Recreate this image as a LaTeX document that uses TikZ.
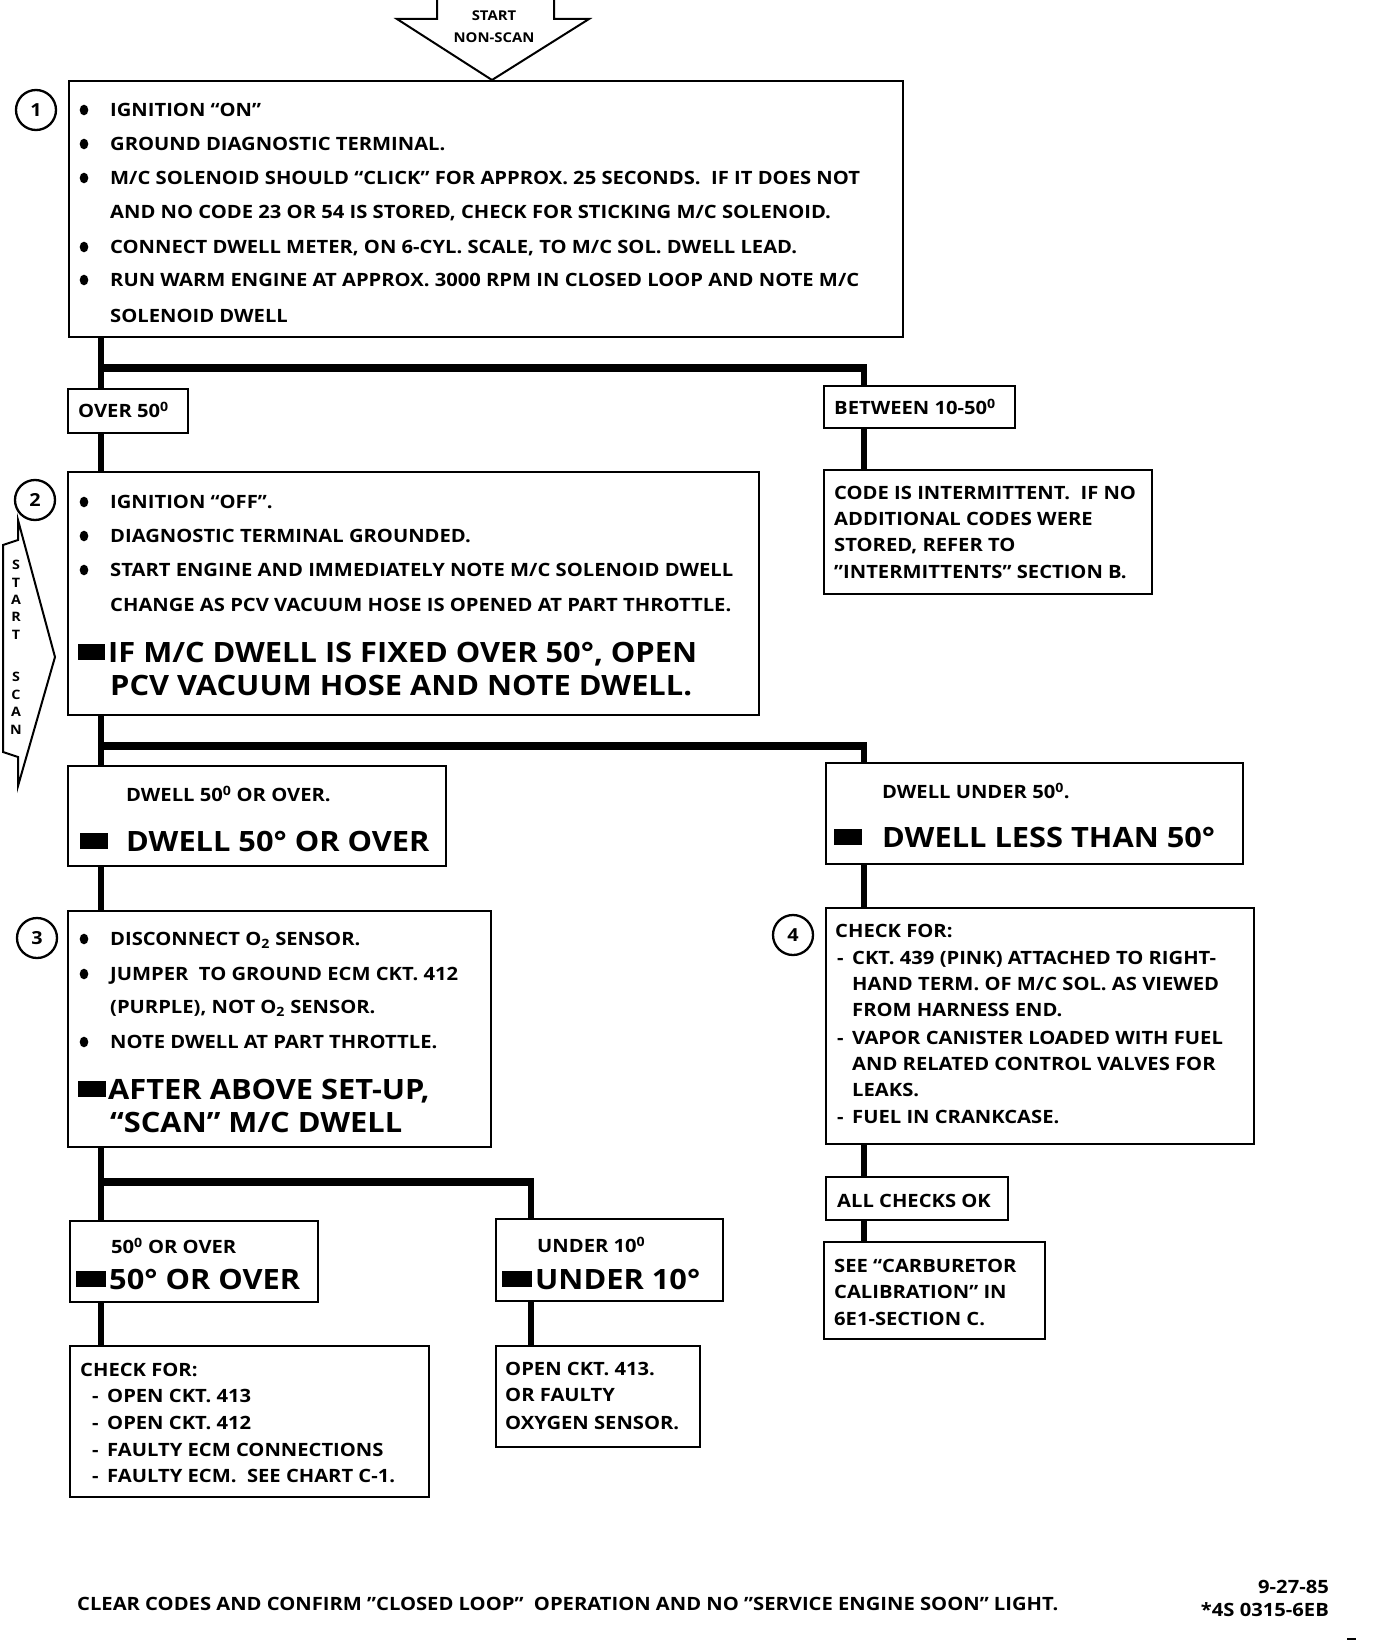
\documentclass[tikz,border=0pt]{standalone}
\usepackage{fontspec}
\setmainfont{Open Sans}[FakeStretch=1.1]
\newcommand\stxt{\bfseries\fontsize{18.35}{20}\selectfont}
\newcommand\btxt{\bfseries\fontsize{28}{30}\selectfont}
\newcommand\ntxt{\bfseries\fontsize{18}{20}\selectfont}
\newcommand\atxt{\bfseries\fontsize{13.5}{15}\selectfont}
\newcommand\vtxt{\bfseries\fontsize{13}{14}\selectfont}
\newcommand\tline[4]{\node[txt] (#1) at ({#2},{#3+6.6}) {#4};}
\newcommand\bline[4]{\node[big] (#1) at ({#2},{#3+10}) {#4};}
\newcommand\bul[2]{\fill (#1,#2) ellipse [x radius=4.3, y radius=5.3];}
\newcommand\sqr[3]{\fill (#1,{#3-8}) rectangle (#2,{#3+7.5});}
\newcommand\bx[5]{\node[box, minimum width={(#4-#2)*1pt}, minimum height={(#5-#3)*1pt}] (#1) at (#2,#3) {};}
\newcommand\dsh[1]{\makebox[15pt][l]{-}#1}
\begin{document}
\begin{tikzpicture}[x=1pt,y=-1pt,
  box/.style={draw, line width=2.3pt, rectangle, inner sep=0pt, anchor=north west},
  conn/.style={line width=5.5pt},
  bar/.style={line width=8pt},
  txt/.style={inner sep=0pt, anchor=base west, font=\stxt},
  big/.style={inner sep=0pt, anchor=base west, font=\btxt},
  num/.style={circle, draw, line width=2.3pt, minimum size=40pt, inner sep=0pt, font=\ntxt},
  vl/.style={inner sep=0pt, font=\vtxt},
  outl/.style={line width=2pt, line join=miter},
]
\useasboundingbox (0,0) rectangle (1376,1640);

% start arrow
\draw[outl] (437,-2) -- (437,19) -- (397,19) -- (492,80) -- (589,19) -- (554,19) -- (554,-2);
\node[inner sep=0pt, font=\atxt] (st1) at (494,16) {START};
\node[inner sep=0pt, font=\atxt] (st2) at (494,38) {NON-SCAN};

% boxes
\bx{b1}{68}{80}{902}{336}
\bx{over}{67}{388}{187}{432}
\bx{betw}{823}{385}{1014}{427}
\bx{b2}{67}{471}{758}{714}
\bx{inter}{823}{469}{1151}{593}
\bx{d50}{67}{765}{445}{865}
\bx{d50u}{825}{762}{1242}{863}
\bx{b3}{67}{910}{490}{1146}
\bx{b4}{825}{907}{1253}{1143}
\bx{o50}{69}{1220}{317}{1301}
\bx{u10}{495}{1218}{722}{1300}
\bx{allok}{825}{1176}{1007}{1219}
\bx{see}{823}{1241}{1044}{1338}
\bx{chk}{69}{1345}{428}{1496}
\bx{open}{495}{1345}{699}{1446}

% numbers
\node[num] (n1) at (36,110) {1};
\node[num] (n2) at (35,500) {2};
\node[num] (n3) at (37,938) {3};
\node[num] (n4) at (793,935) {4};

% start scan arrow
\draw[outl] (18,520) -- (55,657) -- (18,786) -- (18,757) -- (3,752) -- (3,545) -- (18,540) -- cycle;
\node[vl] (ss1) at (16,565) {S};
\node[vl] (ss2) at (16,583) {T};
\node[vl] (ss3) at (16,600) {A};
\node[vl] (ss4) at (16,617) {R};
\node[vl] (ss5) at (16,635) {T};
\node[vl] (ss6) at (16,677) {S};
\node[vl] (ss7) at (16,695) {C};
\node[vl] (ss8) at (16,712) {A};
\node[vl] (ss9) at (16,730) {N};

% connectors
\coordinate (L) at (101,0);
\coordinate (R) at (864,0);
\coordinate (M) at (531,0);
\coordinate (j1l) at (101,368);
\coordinate (j1r) at (864,368);
\coordinate (j2l) at (101,746);
\coordinate (j2r) at (864,746);
\coordinate (j3l) at (101,1182);
\coordinate (j3r) at (531,1182);

\draw[conn] (b1.south -| L) -- (over.north -| L);
\draw[bar] (j1l) -- ([xshift=2.75pt]j1r);
\draw[conn] ([yshift=4pt]j1r) -- (betw.north -| R);
\draw[conn] (over.south -| L) -- (b2.north -| L);
\draw[conn] (betw.south -| R) -- (inter.north -| R);

\draw[conn] (b2.south -| L) -- (d50.north -| L);
\draw[bar] (j2l) -- ([xshift=2.75pt]j2r);
\draw[conn] ([yshift=4pt]j2r) -- (d50u.north -| R);
\draw[conn] (d50.south -| L) -- (b3.north -| L);
\draw[conn] (d50u.south -| R) -- (b4.north -| R);

\draw[conn] (b3.south -| L) -- (o50.north -| L);
\draw[bar] (j3l) -- ([xshift=2.75pt]j3r);
\draw[conn] ([yshift=4pt]j3r) -- (u10.north -| M);
\draw[conn] (o50.south -| L) -- (chk.north -| L);
\draw[conn] (u10.south -| M) -- (open.north -| M);

\draw[conn] (b4.south -| R) -- (allok.north -| R);
\draw[conn] (allok.south -| R) -- (see.north -| R);

% box 1 text
\bul{84}{110}\tline{t11}{110}{110}{IGNITION “ON”}
\bul{84}{144}\tline{t12}{110}{144}{GROUND DIAGNOSTIC TERMINAL.}
\bul{84}{178}\tline{t13}{110}{178}{M/C SOLENOID SHOULD “CLICK” FOR APPROX. 25 SECONDS.\ \ IF IT DOES NOT}
\tline{t14}{110}{212}{AND NO CODE 23 OR 54 IS STORED, CHECK FOR STICKING M/C SOLENOID.}
\bul{84}{247}\tline{t15}{110}{247}{CONNECT DWELL METER, ON 6-CYL. SCALE, TO M/C SOL. DWELL LEAD.}
\bul{84}{280}\tline{t16}{110}{280}{RUN WARM ENGINE AT APPROX. 3000 RPM IN CLOSED LOOP AND NOTE M/C}
\tline{t17}{110}{316}{SOLENOID DWELL}

\tline{tov}{78}{411}{OVER 50\textsuperscript{0}}
\tline{tbw}{834}{408}{BETWEEN 10-50\textsuperscript{0}}

% box 2 text
\bul{84}{502}\tline{t21}{110}{502}{IGNITION “OFF”.}
\bul{84}{536}\tline{t22}{110}{536}{DIAGNOSTIC TERMINAL GROUNDED.}
\bul{84}{570}\tline{t23}{110}{570}{START ENGINE AND IMMEDIATELY NOTE M/C SOLENOID DWELL}
\tline{t24}{110}{605}{CHANGE AS PCV VACUUM HOSE IS OPENED AT PART THROTTLE.}
\sqr{78}{105}{652}\bline{t25}{108}{652}{IF M/C DWELL IS FIXED OVER 50°, OPEN}
\bline{t26}{110}{685}{PCV VACUUM HOSE AND NOTE DWELL.}

% intermittent
\tline{ti1}{834}{493}{CODE IS INTERMITTENT.\ \ IF NO}
\tline{ti2}{834}{519}{ADDITIONAL CODES WERE}
\tline{ti3}{834}{545}{STORED, REFER TO}
\tline{ti4}{834}{572}{”INTERMITTENTS” SECTION B.}

% dwell boxes
\tline{td1}{126}{795}{DWELL 50\textsuperscript{0} OR OVER.}
\sqr{80}{108}{841}\bline{td2}{126}{841}{DWELL 50° OR OVER}
\tline{tu1}{882}{792}{DWELL UNDER 50\textsuperscript{0}.}
\sqr{834}{862}{837}\bline{tu2}{882}{837}{DWELL LESS THAN 50°}

% box 3
\bul{84}{939}\tline{t31}{110}{939}{DISCONNECT O\textsubscript{2} SENSOR.}
\bul{84}{974}\tline{t32}{110}{974}{JUMPER\ \ TO GROUND ECM CKT. 412}
\tline{t33}{110}{1007}{(PURPLE), NOT O\textsubscript{2} SENSOR.}
\bul{84}{1042}\tline{t34}{110}{1042}{NOTE DWELL AT PART THROTTLE.}
\sqr{78}{106}{1089}\bline{t35}{108}{1089}{AFTER ABOVE SET-UP,}
\bline{t36}{110}{1122}{“SCAN” M/C DWELL}

% box 4
\tline{t41}{835}{931}{CHECK FOR:}
\tline{t42}{837}{958}{\dsh{CKT. 439 (PINK) ATTACHED TO RIGHT-}}
\tline{t43}{852}{984}{HAND TERM. OF M/C SOL. AS VIEWED}
\tline{t44}{852}{1010}{FROM HARNESS END.}
\tline{t45}{837}{1038}{\dsh{VAPOR CANISTER LOADED WITH FUEL}}
\tline{t46}{852}{1064}{AND RELATED CONTROL VALVES FOR}
\tline{t47}{852}{1090}{LEAKS.}
\tline{t48}{837}{1117}{\dsh{FUEL IN CRANKCASE.}}

% lower boxes
\tline{to1}{111}{1247}{50\textsuperscript{0} OR OVER}
\sqr{76}{106}{1279}\bline{to2}{109}{1279}{50° OR OVER}
\tline{tn1}{537}{1246}{UNDER 10\textsuperscript{0}}
\sqr{502}{532}{1279}\bline{tn2}{535}{1279}{UNDER 10°}
\tline{tok}{837}{1201}{ALL CHECKS OK}
\tline{ts1}{834}{1266}{SEE “CARBURETOR}
\tline{ts2}{834}{1292}{CALIBRATION” IN}
\tline{ts3}{834}{1319}{6E1-SECTION C.}
\tline{tc1}{80}{1370}{CHECK FOR:}
\tline{tc2}{92}{1396}{\dsh{OPEN CKT. 413}}
\tline{tc3}{92}{1423}{\dsh{OPEN CKT. 412}}
\tline{tc4}{92}{1450}{\dsh{FAULTY ECM CONNECTIONS}}
\tline{tc5}{92}{1476}{\dsh{FAULTY ECM.\ \ SEE CHART C-1.}}
\tline{tp1}{505}{1369}{OPEN CKT. 413.}
\tline{tp2}{505}{1395}{OR FAULTY}
\tline{tp3}{505}{1423}{OXYGEN SENSOR.}

% footer
\tline{tf}{77}{1604}{CLEAR CODES AND CONFIRM ”CLOSED LOOP”\ \ OPERATION AND NO ”SERVICE ENGINE SOON” LIGHT.}
\node[txt, anchor=base east] (tdate) at (1329,1593.6) {9-27-85};
\node[txt, anchor=base east] (tcode) at (1329,1616.6) {*4S 0315-6EB};
\draw[line width=1.5pt] (1347,1639) -- (1356,1639);
\end{tikzpicture}
\end{document}
